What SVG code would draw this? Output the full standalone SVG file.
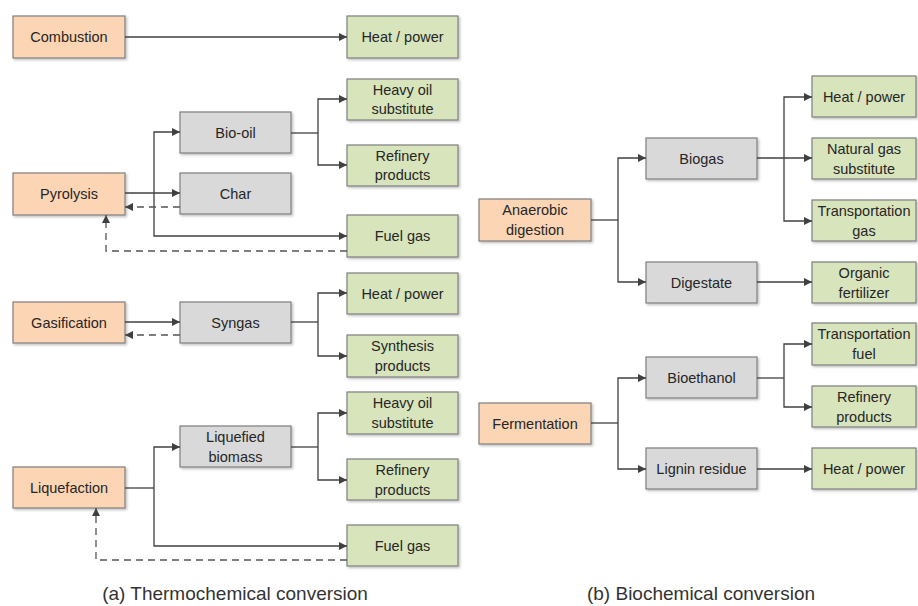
<svg xmlns="http://www.w3.org/2000/svg" width="918" height="606" viewBox="0 0 918 606">
<defs>
<marker id="ah" viewBox="0 0 10 10" refX="10" refY="5" markerWidth="8" markerHeight="8" markerUnits="userSpaceOnUse" orient="auto">
<path d="M0,0 L10,5 L0,10 z" fill="#404040"/>
</marker>
<filter id="sh" x="-10%" y="-10%" width="130%" height="130%">
<feDropShadow dx="1.5" dy="1.5" stdDeviation="1" flood-color="#000" flood-opacity="0.25"/>
</filter>
</defs>
<style>
.src rect{fill:#FCD5B4;stroke:#7F7F7F;stroke-width:1.2;filter:url(#sh)}
.mid rect{fill:#D9D9D9;stroke:#7F7F7F;stroke-width:1.2;filter:url(#sh)}
.out rect{fill:#D8E4BC;stroke:#7F7F7F;stroke-width:1.2;filter:url(#sh)}
text{font-family:"Liberation Sans",Arial,sans-serif;font-size:14.5px;fill:#262626;text-anchor:middle}
.cap{font-size:19px;fill:#333}
#conn path{fill:none;stroke:#404040;stroke-width:1.3}
#conn .a{marker-end:url(#ah)}
#conn .d{stroke-dasharray:7,5;stroke:#555}
</style>
<rect width="918" height="606" fill="#fff"/>

<!-- Thermochemical -->
<g id="combustion" class="src"><rect x="13" y="16" width="112" height="42"/><text x="69" y="42">Combustion</text></g>
<g id="heat1" class="out"><rect x="347" y="16" width="111" height="42"/><text x="402.5" y="42">Heat / power</text></g>

<g id="heavyoil1" class="out"><rect x="347" y="79" width="111" height="41"/><text x="402.5" y="95">Heavy oil</text><text x="402.5" y="114">substitute</text></g>
<g id="biooil" class="mid"><rect x="180" y="112" width="111" height="41"/><text x="235.5" y="138">Bio-oil</text></g>
<g id="refinery1" class="out"><rect x="347" y="145" width="111" height="41"/><text x="402.5" y="161">Refinery</text><text x="402.5" y="180">products</text></g>
<g id="pyrolysis" class="src"><rect x="13" y="173" width="112" height="42"/><text x="69" y="199">Pyrolysis</text></g>
<g id="char" class="mid"><rect x="180" y="173" width="111" height="41"/><text x="235.5" y="199">Char</text></g>
<g id="fuelgas1" class="out"><rect x="347" y="215" width="111" height="42"/><text x="402.5" y="241">Fuel gas</text></g>

<g id="gasification" class="src"><rect x="13" y="302" width="112" height="41"/><text x="69" y="328">Gasification</text></g>
<g id="syngas" class="mid"><rect x="180" y="302" width="111" height="41"/><text x="235.5" y="328">Syngas</text></g>
<g id="heat2" class="out"><rect x="347" y="273" width="111" height="41"/><text x="402.5" y="299">Heat / power</text></g>
<g id="synthesis" class="out"><rect x="347" y="335" width="111" height="42"/><text x="402.5" y="351">Synthesis</text><text x="402.5" y="371">products</text></g>

<g id="heavyoil2" class="out"><rect x="347" y="392" width="111" height="42"/><text x="402.5" y="408">Heavy oil</text><text x="402.5" y="428">substitute</text></g>
<g id="liqbiomass" class="mid"><rect x="180" y="426" width="111" height="41"/><text x="235.5" y="442">Liquefied</text><text x="235.5" y="462">biomass</text></g>
<g id="refinery2" class="out"><rect x="347" y="459" width="111" height="41"/><text x="402.5" y="475">Refinery</text><text x="402.5" y="495">products</text></g>
<g id="liquefaction" class="src"><rect x="13" y="467" width="112" height="41"/><text x="69" y="493">Liquefaction</text></g>
<g id="fuelgas2" class="out"><rect x="347" y="525" width="111" height="41"/><text x="402.5" y="551">Fuel gas</text></g>

<!-- Biochemical -->
<g id="anaerobic" class="src"><rect x="479" y="199" width="112" height="42"/><text x="535" y="215">Anaerobic</text><text x="535" y="235">digestion</text></g>
<g id="biogas" class="mid"><rect x="646" y="138" width="111" height="41"/><text x="701.5" y="164">Biogas</text></g>
<g id="digestate" class="mid"><rect x="646" y="262" width="111" height="41"/><text x="701.5" y="288">Digestate</text></g>
<g id="heat3" class="out"><rect x="812" y="76" width="104" height="41"/><text x="864" y="102">Heat / power</text></g>
<g id="natgas" class="out"><rect x="812" y="138" width="104" height="41"/><text x="864" y="154">Natural gas</text><text x="864" y="174">substitute</text></g>
<g id="transgas" class="out"><rect x="812" y="200" width="104" height="41"/><text x="864" y="216">Transportation</text><text x="864" y="236">gas</text></g>
<g id="fertilizer" class="out"><rect x="812" y="262" width="104" height="41"/><text x="864" y="278">Organic</text><text x="864" y="298">fertilizer</text></g>

<g id="fermentation" class="src"><rect x="479" y="403" width="112" height="41"/><text x="535" y="429">Fermentation</text></g>
<g id="bioethanol" class="mid"><rect x="646" y="357" width="111" height="41"/><text x="701.5" y="383">Bioethanol</text></g>
<g id="lignin" class="mid"><rect x="646" y="448" width="111" height="41"/><text x="701.5" y="474">Lignin residue</text></g>
<g id="transfuel" class="out"><rect x="812" y="323" width="104" height="42"/><text x="864" y="339">Transportation</text><text x="864" y="359">fuel</text></g>
<g id="refinery3" class="out"><rect x="812" y="386" width="104" height="41"/><text x="864" y="402">Refinery</text><text x="864" y="422">products</text></g>
<g id="heat4" class="out"><rect x="812" y="448" width="104" height="41"/><text x="864" y="474">Heat / power</text></g>

<g id="conn">
<path class="a" d="M125,37 H347"/>
<!-- pyrolysis -->
<path class="a" d="M125,193 H180"/>
<path class="a" d="M154,193 V132 H180"/>
<path class="a" d="M154,193 V236 H347"/>
<path class="a d" d="M180,207 H125"/>
<path class="a d" d="M347,251 H106 V215"/>
<path d="M291,133 H318"/>
<path class="a" d="M318,133 V99 H347"/>
<path class="a" d="M318,133 V165 H347"/>
<!-- gasification -->
<path class="a" d="M125,322 H180"/>
<path class="a d" d="M180,335 H125"/>
<path d="M291,322 H318"/>
<path class="a" d="M318,322 V293 H347"/>
<path class="a" d="M318,322 V356 H347"/>
<!-- liquefaction -->
<path d="M125,488 H154"/>
<path class="a" d="M154,488 V447 H180"/>
<path class="a" d="M154,488 V546 H347"/>
<path class="a d" d="M347,560 H96 V508"/>
<path d="M291,447 H318"/>
<path class="a" d="M318,447 V413 H347"/>
<path class="a" d="M318,447 V480 H347"/>
<!-- anaerobic -->
<path d="M591,220 H618"/>
<path class="a" d="M618,220 V158 H646"/>
<path class="a" d="M618,220 V282 H646"/>
<path class="a" d="M757,158 H812"/>
<path class="a" d="M784,158 V97 H812"/>
<path class="a" d="M784,158 V221 H812"/>
<path class="a" d="M757,282 H812"/>
<!-- fermentation -->
<path d="M591,423 H618"/>
<path class="a" d="M618,423 V378 H646"/>
<path class="a" d="M618,423 V469 H646"/>
<path d="M757,378 H784"/>
<path class="a" d="M784,378 V344 H812"/>
<path class="a" d="M784,378 V407 H812"/>
<path class="a" d="M757,469 H812"/>
</g>

<text class="cap" x="235" y="600">(a) Thermochemical conversion</text>
<text class="cap" x="701" y="600">(b) Biochemical conversion</text>
</svg>
